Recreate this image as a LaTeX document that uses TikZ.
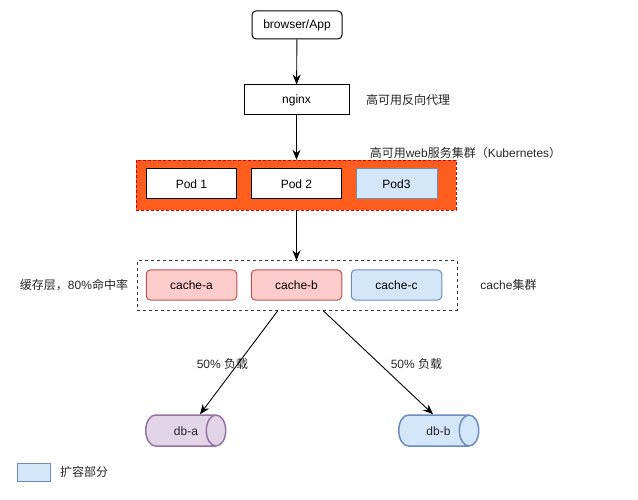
\documentclass[tikz,border=0pt]{standalone}
\usepackage{fontspec}
\setmainfont{Liberation Sans}
\newfontfamily\cjk{Noto Sans CJK SC}
\usetikzlibrary{arrows.meta,shapes.geometric}
\definecolor{orangefill}{HTML}{FF5E1F}
\definecolor{redline}{HTML}{B85450}
\definecolor{redfill}{HTML}{FFCCCC}
\definecolor{blueline}{HTML}{6C8EBF}
\definecolor{bluefill}{HTML}{D4E6F9}
\definecolor{purpleline}{HTML}{9673A6}
\definecolor{purplefill}{HTML}{E1D5E7}
\tikzset{box/.style={draw=black, fill=white, line width=1pt, inner sep=0pt, minimum width=90.5pt, minimum height=30pt},
    newbox/.style={box, draw=blueline, fill=bluefill},
    cachebox/.style={box, rounded corners=4pt, draw=redline, fill=redfill},
    dbnode/.style={cylinder, shape aspect=2.2, draw, line width=1.5pt, inner sep=0pt,
        minimum width=31pt, minimum height=80pt},
    label/.style={inner sep=0pt, text=black!85},
    arrow/.style={-{Stealth[length=10pt,width=8pt]}, line width=.9pt}}

\begin{document}
\begin{tikzpicture}[x=1pt, y=-1pt, font=\fontsize{12}{14}\selectfont]
    \useasboundingbox (0,0) rectangle (638,500);
    % top of the stack
    \node[box, rounded corners=4pt, minimum width=90pt, minimum height=28pt] (browser) at (297,25) {browser/App};
    \node[box, minimum width=105pt] (nginx) at (296.5,100) {nginx};
    \node[label] (nginxtext) at (408,100) {\cjk 高可用反向代理};
    % web cluster
    \node[inner sep=0pt, minimum width=320pt, minimum height=50pt, fill=orangefill,
          draw=red!80!black, densely dashed] (webgroup) at (296,185) {};
    \node[box] (pod1) at (191.5,184) {Pod 1};
    \node[box] (pod2) at (296.5,184) {Pod 2};
    \node[newbox, minimum width=81pt] (pod3) at (396.5,184) {Pod3};
    \node[label] (webtext) at (465.5,153) {{\cjk 高可用}web{\cjk 服务集群（}Kubernetes{\cjk ）}};
    % cache layer
    \node[inner sep=0pt, minimum width=320pt, minimum height=49pt, draw=black!80, dashed,
          line width=1pt] (cachegroup) at (297,285.5) {};
    \node[cachebox] (cachea) at (191.5,285) {cache-a};
    \node[cachebox] (cacheb) at (296.5,285) {cache-b};
    \node[cachebox, draw=blueline, fill=bluefill] (cachec) at (396.5,285) {cache-c};
    \node[label] (cachetext) at (74,285) {{\cjk 缓存层，}80\%{\cjk 命中率}};
    \node[label] (clustertext) at (508.5,285) {cache{\cjk 集群}};
    % databases
    \node[dbnode, draw=purpleline, fill=purplefill] (dba) at (180.5,430.5) {\phantom{db-a}};
    \node[dbnode, draw=blueline, fill=bluefill] (dbb) at (433.5,430.5) {\phantom{db-b}};
    \node[label] (dbatext) at (186,431) {db-a};
    \node[label] (dbbtext) at (438.5,431) {db-b};
    \node[label] (loada) at (222.5,364) {50\% {\cjk 负载}};
    \node[label] (loadb) at (416.5,364) {50\% {\cjk 负载}};
    % legend
    \node[newbox, minimum width=33pt, minimum height=18pt] (legend) at (33.5,472) {};
    \node[label] (legendtext) at (84,472) {\cjk 扩容部分};
    % connectors
    \draw[arrow] (browser) -- (nginx);
    \draw[arrow] (nginx) -- (webgroup.north -| nginx);
    \draw[arrow] (webgroup.south -| nginx) -- (cachegroup.north -| nginx);
    \draw[arrow] ([xshift=-19pt]cachegroup.south) -- ([xshift=19.5pt]dba.north);
    \draw[arrow] ([xshift=26pt]cachegroup.south) -- ([xshift=-.5pt]dbb.north);
\end{tikzpicture}
\end{document}
